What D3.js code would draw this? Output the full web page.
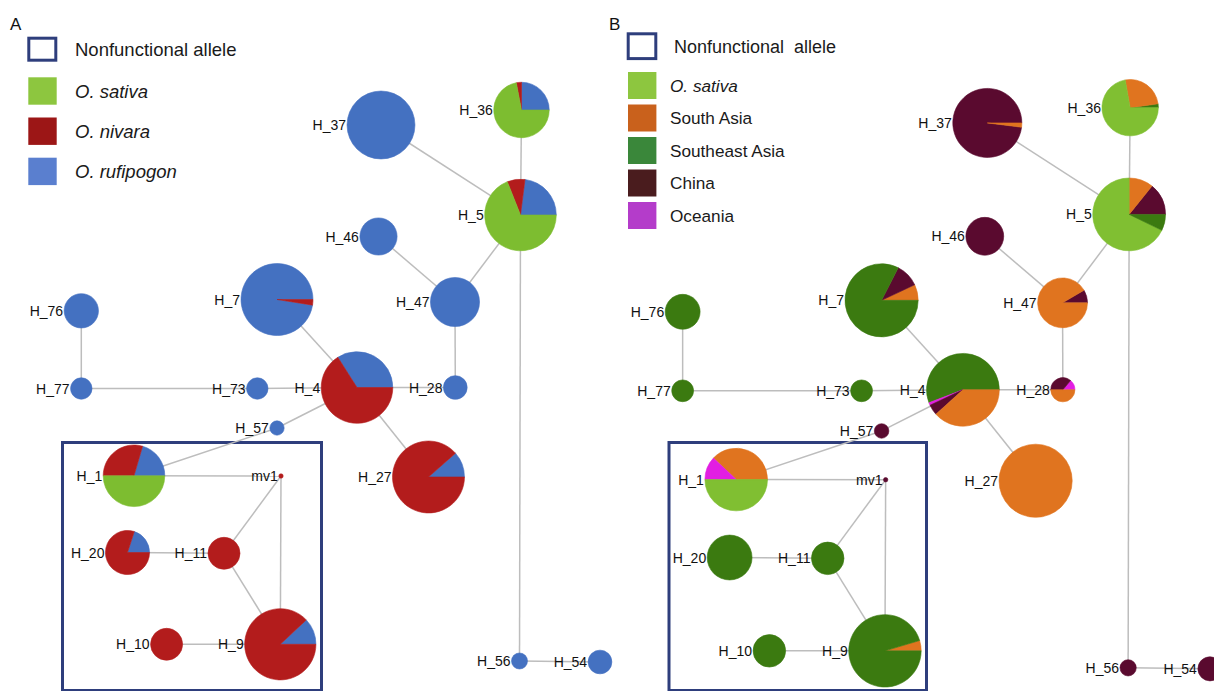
<!DOCTYPE html>
<html>
<head>
<meta charset="utf-8">
<script src="https://cdn.jsdelivr.net/npm/d3@7"></script>
<style>
  html, body { margin: 0; padding: 0; background: #fff; }
  svg { display: block; font-family: "Liberation Sans", Arial, sans-serif; }
</style>
</head>
<body>
<svg id="chart" width="1214" height="691"></svg>
<script>
// ---------------- DATA ----------------
const haplotypes = ["H_37","H_36","H_5","H_46","H_47","H_7","H_4","H_76","H_77","H_73","H_57","H_28","H_27","H_1","H_20","H_11","H_10","H_9","H_56","H_54","mv1"];
const sampleCounts = [90,60,100,27,47,101,100,23,9,9,4,11,101,74,38,20,20,99,5,11,0];

// Panel A: species shares per haplotype (order drawn: rufipogon, nivara, sativa)
const speciesCats = ["O. rufipogon","O. nivara","O. sativa"];
const speciesShares = [
  [1,0,0],[0.25,0.03,0.72],[0.23,0.08,0.69],[1,0,0],[1,0,0],[0.975,0.025,0],[0.34,0.66,0],
  [1,0,0],[1,0,0],[1,0,0],[1,0,0],[1,0,0],[0.115,0.885,0],[0.205,0.295,0.5],
  [0.2,0.8,0],[0,1,0],[0,1,0],[0.12,0.88,0],[1,0,0],[1,0,0],[0,1,0]
];

// Panel B: origin shares per haplotype (segments in drawing order)
const originShares = [
  [["China",0.98],["South Asia",0.02]],
  [["Southeast Asia",0.022],["South Asia",0.256],["O. sativa",0.722]],
  [["China",0.142],["South Asia",0.108],["O. sativa",0.678],["Southeast Asia",0.072]],
  [["China",1]],
  [["China",0.085],["South Asia",0.915]],
  [["South Asia",0.07],["China",0.105],["Southeast Asia",0.825]],
  [["Southeast Asia",0.558],["Oceania",0.012],["China",0.047],["South Asia",0.383]],
  [["Southeast Asia",1]],
  [["Southeast Asia",1]],
  [["Southeast Asia",1]],
  [["China",1]],
  [["Oceania",0.14],["China",0.36],["South Asia",0.5]],
  [["South Asia",1]],
  [["South Asia",0.38],["Oceania",0.12],["O. sativa",0.5]],
  [["Southeast Asia",1]],
  [["Southeast Asia",1]],
  [["Southeast Asia",1]],
  [["South Asia",0.046],["Southeast Asia",0.954]],
  [["China",1]],
  [["China",1]],
  [["China",1]]
];

// Network links
const links = [
  ["H_37","H_5"],["H_36","H_5"],["H_5","H_47"],["H_46","H_47"],["H_47","H_28"],
  ["H_28","H_4"],["H_7","H_4"],["H_4","H_73"],["H_73","H_77"],["H_77","H_76"],
  ["H_4","H_57"],["H_57","H_1"],["H_4","H_27"],["H_1","mv1"],["H_20","H_11"],
  ["mv1","H_11"],["mv1","H_9"],["H_11","H_9"],["H_9","H_10"],["H_5","H_56"],["H_56","H_54"]
];

// Legend labels
const legendA = ["O. sativa","O. nivara","O. rufipogon"];
const legendB = ["O. sativa","South Asia","Southeast Asia","China","Oceania"];

// ---------------- LAYOUT (network coordinates, not data) ----------------
const layout = {
  "H_37":[381,125],"H_36":[521.5,110],"H_5":[520.5,215],"H_46":[378.5,236.5],"H_47":[455,302],
  "H_7":[277,299.5],"H_4":[357,387.5],"H_76":[81.3,310.8],"H_77":[81.3,388.5],"H_73":[257.3,388.5],
  "H_57":[277,428],"H_28":[455.3,387.5],"H_27":[428.5,477],"H_1":[134,475.8],"H_20":[127.5,552.5],
  "H_11":[224,553.3],"H_10":[166.6,644.3],"H_9":[280.3,644.3],"H_56":[519.5,661],"H_54":[600,662],
  "mv1":[281,476]
};

// ---------------- STYLES ----------------
const speciesColor = {"O. sativa":"#7dbd30","O. nivara":"#b31c1c","O. rufipogon":"#4471c1"};
const speciesLegendColor = {"O. sativa":"#8dc63f","O. nivara":"#9c1616","O. rufipogon":"#5a7fcf"};
const originColor = {"O. sativa":"#80bf32","South Asia":"#e0741f","Southeast Asia":"#3b7a10","China":"#5a0a2f","Oceania":"#e21ee2"};
const originLegendColor = {"O. sativa":"#8dc63f","South Asia":"#c9611c","Southeast Asia":"#3a873a","China":"#4a1c1e","Oceania":"#b43cca"};
const boxColor = "#2e3e7c";

const svg = d3.select("#chart");

const nodes = haplotypes.map((h,i)=>({
  name:h, count:sampleCounts[i],
  segA: speciesCats.map((c,j)=>[c, speciesShares[i][j]]),
  segB: originShares[i]
}));
const byName = Object.fromEntries(nodes.map(n=>[n.name,n]));

const pie = d3.pie().sort(null).value(d=>d[1])
  .startAngle(Math.PI/2).endAngle(Math.PI/2 - 2*Math.PI);

function drawPanel(cfg){
  const g = svg.append("g");
  const x = d3.scaleLinear().domain([0,1000]).range([cfg.x0, cfg.x0 + 1000*cfg.k]);
  const y = d3.scaleLinear().domain([0,1000]).range([cfg.y0, cfg.y0 + 1000*cfg.k]);
  const r = d3.scaleSqrt().domain([0,100]).range([0, 35.8*cfg.k]);
  const rad = n => n.name === "mv1" ? 2.2 : r(n.count);
  const px = n => x(layout[n.name][0]);
  const py = n => y(layout[n.name][1]);

  // box
  g.append("rect")
    .attr("x", cfg.box[0]).attr("y", cfg.box[1])
    .attr("width", cfg.box[2]-cfg.box[0]).attr("height", cfg.box[3]-cfg.box[1])
    .attr("fill","none").attr("stroke",boxColor).attr("stroke-width",3);

  // links
  g.append("g").selectAll("line").data(links).join("line")
    .attr("x1",d=>px(byName[d[0]])).attr("y1",d=>py(byName[d[0]]))
    .attr("x2",d=>px(byName[d[1]])).attr("y2",d=>py(byName[d[1]]))
    .attr("stroke","#bdbdbd").attr("stroke-width",1.5);

  // pies
  const ng = g.append("g").selectAll("g").data(nodes).join("g")
    .attr("transform",n=>`translate(${px(n)},${py(n)})`);
  ng.each(function(n){
    const arc = d3.arc().innerRadius(0).outerRadius(rad(n));
    d3.select(this).selectAll("path").data(pie(n[cfg.seg].filter(s=>s[1]>0))).join("path")
      .attr("d",arc).attr("fill",d=>cfg.color[d.data[0]])
      .attr("stroke",d=>cfg.color[d.data[0]]).attr("stroke-width",0.6);
  });

  // labels
  g.append("g").selectAll("text").data(nodes).join("text")
    .attr("x",n=>px(n)-rad(n)-1).attr("y",n=>py(n))
    .attr("dy","0.36em").attr("text-anchor","end")
    .attr("font-size",cfg.labelSize).attr("fill","#111")
    .text(n=>n.name);

  // panel letter
  svg.append("text").attr("x",cfg.letterX).attr("y",30).attr("font-size",17).attr("fill","#111").text(cfg.letter);

  // legend
  const lg = svg.append("g");
  lg.append("rect").attr("x",cfg.leg.bx).attr("y",cfg.leg.by).attr("width",cfg.leg.bw).attr("height",cfg.leg.bh)
    .attr("fill","none").attr("stroke",boxColor).attr("stroke-width",3);
  lg.append("text").attr("x",cfg.leg.tx0).attr("y",cfg.leg.by+cfg.leg.bh/2).attr("dy","0.36em")
    .attr("font-size",cfg.leg.fs0).attr("fill","#1a1a1a").style("white-space","pre")
    .text(cfg.leg.title);
  const items = lg.selectAll("g.item").data(cfg.leg.items).join("g").attr("class","item")
    .attr("transform",(d,i)=>`translate(0,${cfg.leg.y0 + i*cfg.leg.step})`);
  items.append("rect").attr("x",cfg.leg.sx).attr("y",0).attr("width",28.4).attr("height",cfg.leg.sh)
    .attr("fill",d=>cfg.leg.color[d]);
  items.append("text").attr("x",cfg.leg.tx).attr("y",cfg.leg.sh/2).attr("dy","0.36em")
    .attr("font-size",cfg.leg.fs).attr("fill","#1a1a1a")
    .attr("font-style",d=>d.startsWith("O. ")?"italic":"normal")
    .text(d=>d);
}

drawPanel({
  x0:0, y0:0, k:1, seg:"segA", color:speciesColor, labelSize:14,
  box:[62.5,442.5,321.5,690.5], letter:"A", letterX:10,
  leg:{bx:28.8,by:38.2,bw:27,bh:22,tx0:75,fs0:18.5,title:"Nonfunctional allele",
       items:legendA, color:speciesLegendColor, sx:28.3, y0:77.3, step:40.2, sh:27.4, tx:75, fs:18.5}
});
drawPanel({
  x0:600, y0:-4.15, k:1.0166, seg:"segB", color:originColor, labelSize:14,
  box:[669,442.5,926.5,690.5], letter:"B", letterX:609,
  leg:{bx:628.2,by:33.8,bw:27.6,bh:24.8,tx0:674,fs0:18,title:"Nonfunctional  allele",
       items:legendB, color:originLegendColor, sx:628, y0:72, step:32.5, sh:27, tx:670, fs:17.2}
});
</script>
</body>
</html>
